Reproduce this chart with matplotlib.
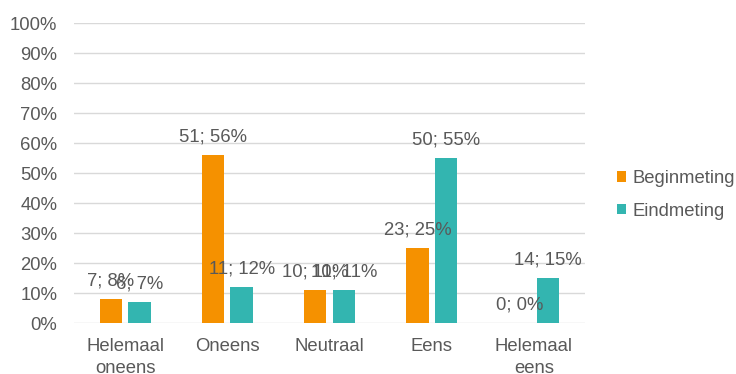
import matplotlib.pyplot as plt
import numpy as np

categories = ["Helemaal\noneens", "Oneens", "Neutraal", "Eens", "Helemaal\neens"]
series_names = ["Beginmeting", "Eindmeting"]
begin_counts = [7, 51, 10, 23, 0]
begin_pct = [8, 56, 11, 25, 0]
eind_counts = [6, 11, 10, 50, 14]
eind_pct = [7, 12, 11, 55, 15]
yticks = [0, 10, 20, 30, 40, 50, 60, 70, 80, 90, 100]

colors = ["#F59100", "#33B5B0"]
text_color = "#595959"
fs = 13.3

plt.rcParams['font.family'] = ['Liberation Sans', 'DejaVu Sans']
fig = plt.figure(figsize=(7.36, 3.74), dpi=100)
ax = fig.add_axes([74/736, 51/374, 511/736, 300/374])

x = np.arange(len(categories))
w = 0.22
off = 0.14
series = [(begin_counts, begin_pct), (eind_counts, eind_pct)]
for i, (cnts, pcts) in enumerate(series):
    xs = x + (-off if i == 0 else off)
    ax.bar(xs, pcts, width=w, color=colors[i], label=series_names[i], zorder=3)
    for xi, c, p in zip(xs, cnts, pcts):
        ax.annotate(f"{c}; {p}%", (xi, p), xytext=(0, 13), textcoords='offset points',
                    ha='center', va='center', fontsize=fs, color=text_color, zorder=4)

ax.set_xlim(-0.5, len(categories) - 0.5)
ax.set_ylim(0, 100)
ax.set_yticks(yticks)
ax.set_yticklabels([f"{t}%" for t in yticks])
ax.set_xticks(x)
ax.set_xticklabels(categories, linespacing=1.35)
ax.grid(axis='y', color='#D9D9D9', linewidth=1, zorder=0)
for s in ['top', 'right', 'left', 'bottom']:
    ax.spines[s].set_visible(False)
ax.tick_params(axis='both', length=0, labelsize=fs, colors=text_color)
ax.tick_params(axis='y', pad=12)
ax.tick_params(axis='x', pad=11)

leg = ax.legend(loc='center left', bbox_to_anchor=(1.03, 0.427), frameon=False,
                fontsize=fs, handlelength=0.5, handleheight=0.5, handletextpad=0.35,
                labelspacing=0.85)
for t in leg.get_texts():
    t.set_color(text_color)

fig.savefig("out.png", dpi=100)
